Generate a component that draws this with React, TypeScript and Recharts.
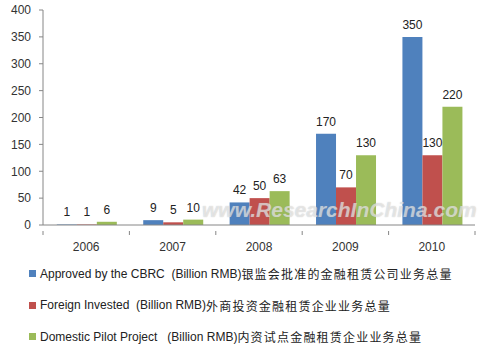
import { BarChart, Bar, XAxis, YAxis, LabelList } from 'recharts';

const years = ['2006', '2007', '2008', '2009', '2010'];
const cbrc = [1, 9, 42, 170, 350];
const foreign = [1, 5, 50, 70, 130];
const domestic = [6, 10, 63, 130, 220];
const yTicks = [0, 50, 100, 150, 200, 250, 300, 350, 400];

const seriesNames = [
  { en: 'Approved by the CBRC  (Billion RMB)', zh: '银监会批准的金融租赁公司业务总量', color: '#4F81BD' },
  { en: 'Foreign Invested  (Billion RMB)', zh: '外商投资金融租赁企业业务总量', color: '#C0504D' },
  { en: 'Domestic Pilot Project   (Billion RMB)', zh: '内资试点金融租赁企业业务总量', color: '#9BBB59' },
];

const data = years.map((year, i) => ({
  year,
  cbrc: cbrc[i],
  foreign: foreign[i],
  domestic: domestic[i],
}));

const FONT = '"Liberation Sans", Arial, sans-serif';
const AXIS = '#868686';

function YearTick(props: any) {
  const { x, y, payload, index } = props;
  const half = payload?.offset ?? 43.2;
  return (
    <g>
      <line x1={x - half} y1={y - 2} x2={x - half} y2={y + 2} stroke={AXIS} />
      {index === years.length - 1 && (
        <line x1={x + half} y1={y - 2} x2={x + half} y2={y + 2} stroke={AXIS} />
      )}
      <text x={x} y={y + 18} textAnchor="middle" fontSize={12} fill="#333" fontFamily={FONT}>
        {payload.value}
      </text>
    </g>
  );
}

function LegendBox() {
  return (
    <div style={{ position: 'absolute', top: 258, left: 29, fontFamily: FONT, fontSize: 12, color: '#222' }}>
      {seriesNames.map((s) => (
        <div key={s.en} style={{ display: 'flex', alignItems: 'center', height: 31.5, whiteSpace: 'pre' }}>
          <span style={{ width: 7, height: 7, background: s.color, display: 'inline-block', marginRight: 4 }} />
          <span>{s.en}</span>
          <span style={{ fontFamily: '"Noto Sans CJK SC", sans-serif', letterSpacing: 1.2 }}>{s.zh}</span>
        </div>
      ))}
    </div>
  );
}

export default function App() {
  return (
    <div style={{ position: 'absolute', left: 0, top: 0, width: 485, height: 353, background: '#fff' }}>
      <BarChart
        width={485}
        height={353}
        data={data}
        margin={{ top: 10, right: 10, left: 0, bottom: 98 }}
        barCategoryGap="16%"
        barGap={0}
      >
        <XAxis
          dataKey="year"
          stroke={AXIS}
          tickLine={false}
          tick={<YearTick />}
          height={30}
          interval={0}
        />
        <YAxis
          domain={[0, 400]}
          ticks={yTicks}
          width={43}
          stroke={AXIS}
          tickSize={4}
          tickMargin={8}
          tick={{ fontSize: 12, fill: '#333', fontFamily: FONT }}
        />
        <Bar dataKey="cbrc" fill="#4F81BD" isAnimationActive={false}>
          <LabelList dataKey="cbrc" position="top" offset={8} fontSize={12} fill="#222" fontFamily={FONT} />
        </Bar>
        <Bar dataKey="foreign" fill="#C0504D" isAnimationActive={false}>
          <LabelList dataKey="foreign" position="top" offset={8} fontSize={12} fill="#222" fontFamily={FONT} />
        </Bar>
        <Bar dataKey="domestic" fill="#9BBB59" isAnimationActive={false}>
          <LabelList dataKey="domestic" position="top" offset={8} fontSize={12} fill="#222" fontFamily={FONT} />
        </Bar>
      </BarChart>
      <LegendBox />
      <div
        style={{
          position: 'absolute',
          left: 202,
          top: 198,
          fontFamily: FONT,
          fontWeight: 'bold',
          fontStyle: 'italic',
          fontSize: 21,
          color: 'rgba(255,255,255,0.55)',
          textShadow: '0 0 1px rgba(150,150,150,0.6)',
          pointerEvents: 'none',
          whiteSpace: 'nowrap',
        }}
      >
        www.ResearchInChina.com
      </div>
    </div>
  );
}
